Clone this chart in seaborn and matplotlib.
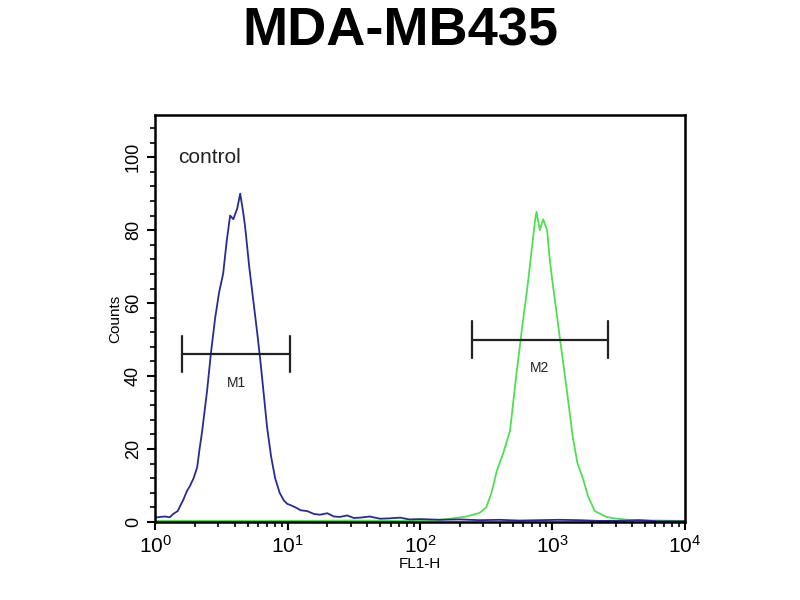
import numpy as np
import pandas as pd
import matplotlib
matplotlib.use("Agg")
import matplotlib.pyplot as plt
import seaborn as sns
from matplotlib.ticker import LogLocator, MultipleLocator, NullFormatter

# control histogram (blue), log10 of FL1-H and counts
control_log = [0.0, 0.04, 0.075, 0.11, 0.136, 0.17, 0.19, 0.211, 0.24, 0.264, 0.29, 0.317, 0.335, 0.355,
               0.375, 0.392, 0.42, 0.453, 0.483, 0.513, 0.54, 0.566, 0.59, 0.62, 0.642, 0.664, 0.679,
               0.71, 0.74, 0.77, 0.792, 0.82, 0.845, 0.875, 0.906, 0.94, 0.97, 0.996, 1.03, 1.06, 1.1,
               1.147, 1.2, 1.245, 1.3, 1.35, 1.396, 1.45, 1.5, 1.55, 1.62, 1.7, 1.77, 1.85, 1.92, 2.0,
               2.15, 2.3, 2.45, 2.6, 2.75, 2.9, 3.05, 3.2, 3.35, 3.5, 3.65, 3.8, 4.0]
control_counts = [1.2, 1.4, 1.5, 1.3, 2.2, 3.0, 4.5, 6.0, 8.5, 10, 12, 15, 20, 25,
                  31, 36, 46, 56, 63, 68, 77, 84, 83, 86, 90, 85, 81,
                  70, 61, 52, 45, 35, 26, 18, 12, 8, 6, 5, 4.5, 4, 3.2,
                  3, 2.2, 2, 2.4, 1.5, 1.4, 1.8, 1.1, 1.2, 1.5, 0.9, 1, 1.2, 0.7, 0.8,
                  0.6, 0.7, 0.5, 0.6, 0.4, 0.5, 0.6, 0.5, 0.3, 0.3, 0.5, 0.2, 0.2]

# stained sample histogram (green)
sample_log = [0.0, 0.5, 1.1, 1.5, 1.85, 2.0, 2.15, 2.25, 2.35, 2.45, 2.5, 2.54, 2.58, 2.63, 2.68,
              2.72, 2.77, 2.81, 2.845, 2.87, 2.88, 2.905, 2.93, 2.96, 2.98, 3.0, 3.04, 3.08,
              3.12, 3.155, 3.19, 3.23, 3.27, 3.32, 3.4, 3.46, 3.6, 3.8, 4.0]
sample_counts = [0.3, 0.3, 0.3, 0.4, 0.3, 0.5, 0.6, 1.0, 1.5, 2.5, 4, 8, 14, 19, 25,
                 38, 53, 64, 75, 83, 85, 80, 83, 80, 72, 66, 55, 44,
                 33, 23, 16, 12, 7, 3, 1.5, 1, 0.5, 0.4, 0.3]

# marker gates: name, start, end (log10), height
gate_names = ["M1", "M2"]
gate_start = [0.204, 2.39]
gate_end = [1.02, 3.42]
gate_height = [46, 50]

control = pd.DataFrame({"FL1-H": 10 ** np.array(control_log), "Counts": control_counts})
sample = pd.DataFrame({"FL1-H": 10 ** np.array(sample_log), "Counts": sample_counts})

sns.set_style("white")
plt.rcParams["font.family"] = ["Liberation Sans", "DejaVu Sans"]
plt.rcParams["text.color"] = "black"
plt.rcParams["axes.labelcolor"] = "black"
plt.rcParams["xtick.color"] = "black"
plt.rcParams["ytick.color"] = "black"

fig = plt.figure(figsize=(8, 6), dpi=100)
ax = fig.add_axes([0.194, 0.13, 0.662, 0.678])

sns.lineplot(data=sample, x="FL1-H", y="Counts", color="#4fe04f", linewidth=1.3, ax=ax)
sns.lineplot(data=control, x="FL1-H", y="Counts", color="#2a2a96", linewidth=1.3, ax=ax)

ax.set_xscale("log")
ax.set_xlim(1, 10 ** 4)
ax.set_ylim(0, 111.5)

for name, s, e, h in zip(gate_names, gate_start, gate_end, gate_height):
    ax.plot([10 ** s, 10 ** e], [h, h], color="#222222", linewidth=1.6)
    ax.plot([10 ** s, 10 ** s], [h - 5, h + 5], color="#222222", linewidth=1.6)
    ax.plot([10 ** e, 10 ** e], [h - 5, h + 5], color="#222222", linewidth=1.6)
    ax.text(10 ** ((s + e) / 2), h - 6, name, ha="center", va="top", fontsize=10, color="#222222")

ax.text(10 ** 0.17, 100, "control", fontsize=15, color="#222222", va="center")

for sp in ax.spines.values():
    sp.set_color("black")
    sp.set_linewidth(1.8)

ax.xaxis.set_major_locator(LogLocator(base=10, numticks=10))
ax.xaxis.set_minor_locator(LogLocator(base=10, subs=np.arange(2, 10), numticks=10))
ax.xaxis.set_minor_formatter(NullFormatter())
ax.yaxis.set_major_locator(MultipleLocator(20))
ax.yaxis.set_minor_locator(MultipleLocator(4))
ax.tick_params(axis="both", which="major", direction="out", length=6, width=1.5, color="black",
               labelsize=15, bottom=True, left=True)
ax.tick_params(axis="both", which="minor", direction="out", length=3.5, width=1.2, color="black",
               bottom=True, left=True)
plt.setp(ax.get_yticklabels(), rotation=90, va="center", fontsize=13)

ax.set_xlabel("FL1-H", fontsize=11, labelpad=0)
ax.set_ylabel("Counts", fontsize=11, labelpad=2)
fig.suptitle("MDA-MB435", fontsize=39, fontweight="bold", y=0.99, color="black")

fig.savefig("out.png", dpi=100)
